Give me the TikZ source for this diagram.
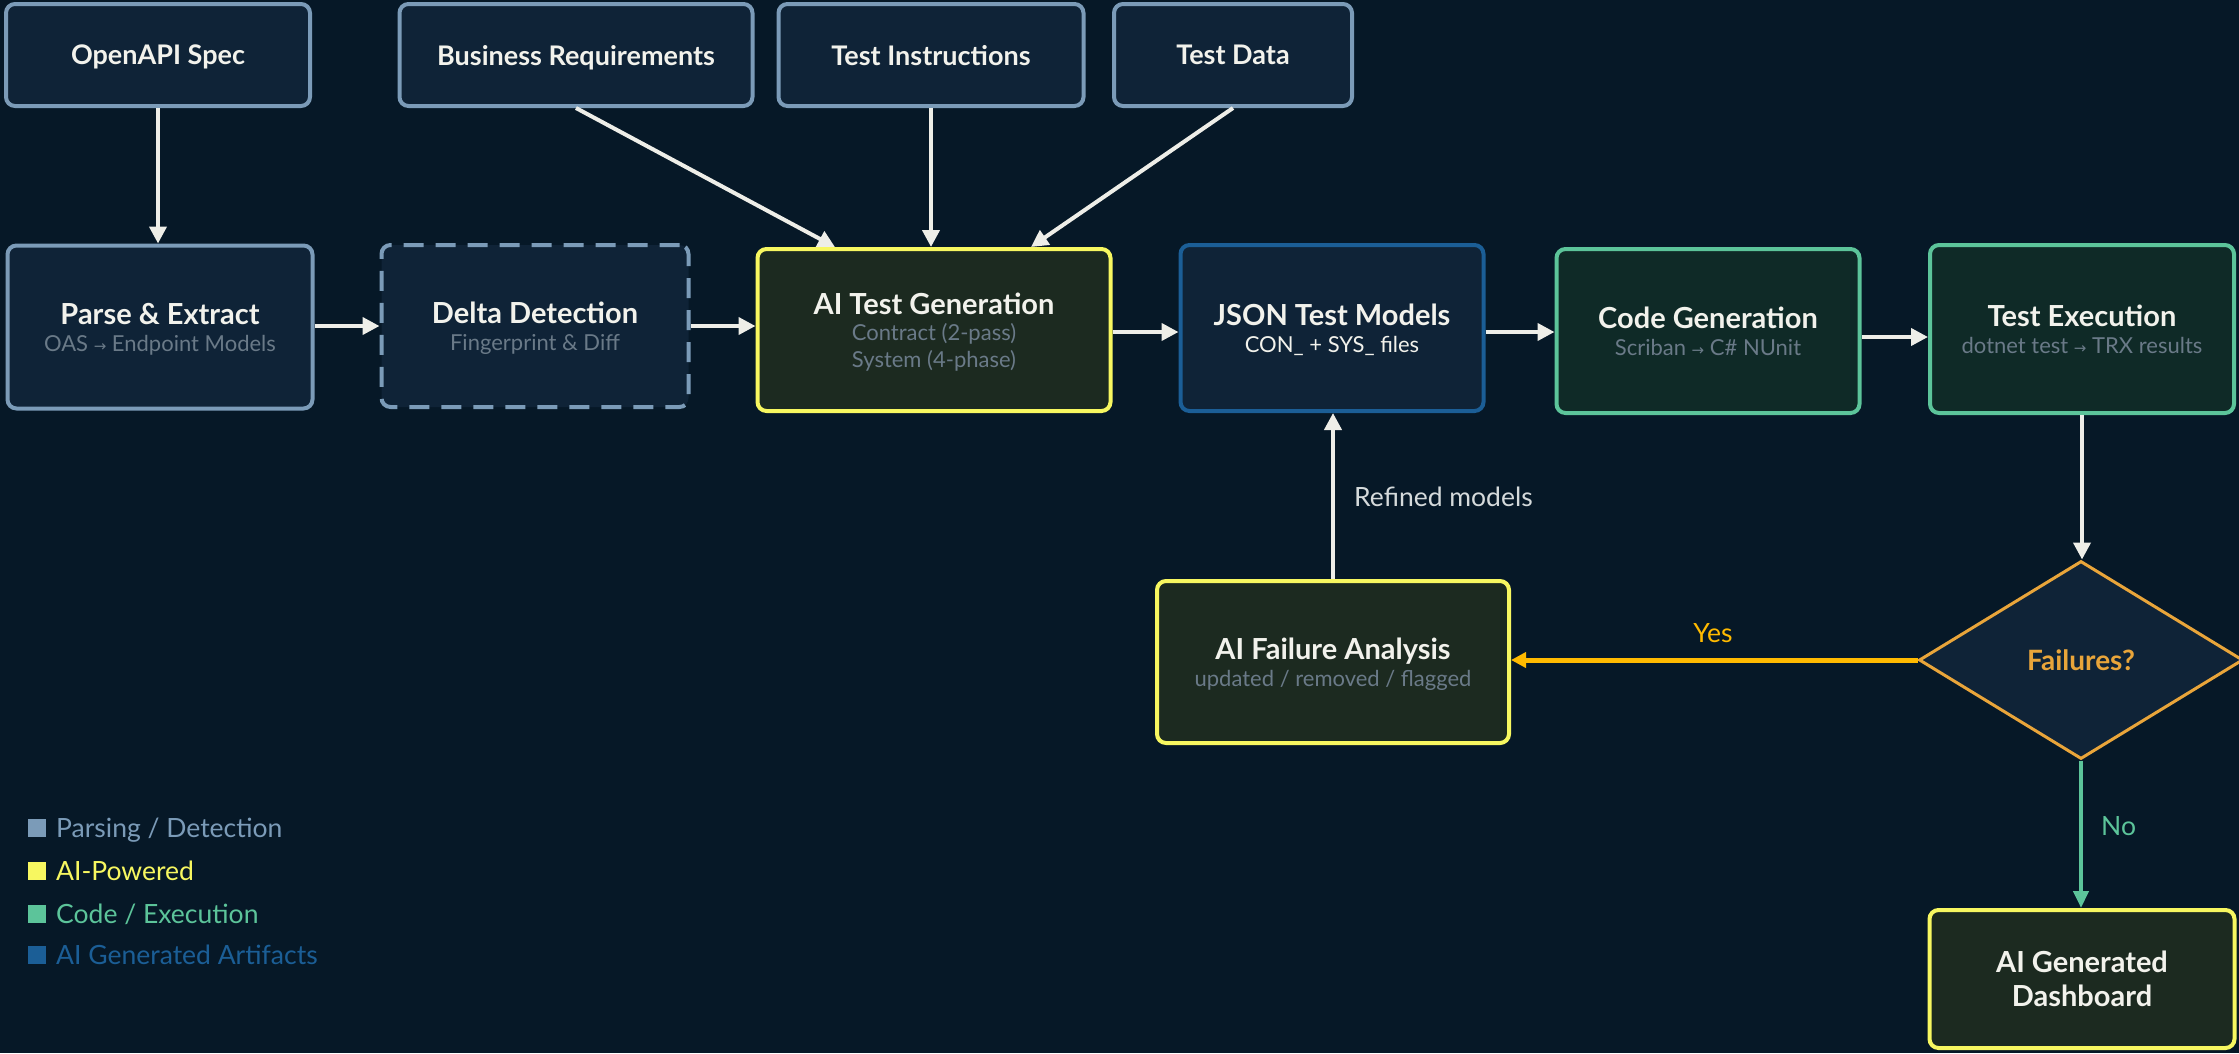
\documentclass[tikz,border=0pt]{standalone}
\usepackage{fontspec}
\setmainfont{Lato}
\newfontfamily\symfont{DejaVu Sans}
\usetikzlibrary{arrows.meta,shapes.geometric,calc}

\definecolor{bg}{HTML}{061827}
\definecolor{boxfill}{HTML}{0F2337}
\definecolor{parsec}{HTML}{7B9BB8}
\definecolor{aiy}{HTML}{F7F760}
\definecolor{aifill}{HTML}{1C2A20}
\definecolor{codeg}{HTML}{5CC49A}
\definecolor{codefill}{HTML}{0F2A27}
\definecolor{artb}{HTML}{1B5E96}
\definecolor{orng}{HTML}{E9A53A}
\definecolor{gold}{HTML}{FFBA00}
\definecolor{arrw}{HTML}{EEEEE8}
\definecolor{ttlc}{HTML}{F2F2EC}
\definecolor{subc}{HTML}{6A7A88}
\definecolor{lblc}{HTML}{D5DADB}

\newcommand\ttlf{\fontsize{29}{29}\selectfont\bfseries\color{ttlc}}
\newcommand\topf{\fontsize{27}{30}\selectfont\bfseries}
\newcommand\subf{\fontsize{22}{22}\selectfont\mdseries\color{subc}}
\newcommand\myra{{\symfont\fontsize{15}{15}\selectfont →}}

\tikzset{
  box/.style={rectangle, rounded corners=9pt, line width=4pt, inner sep=0pt, align=center, text=ttlc,
    font=\fontsize{22}{27}\selectfont, text depth=0pt},
  pbox/.style={box, draw=parsec, fill=boxfill},
  dbox/.style={pbox, dash pattern=on 20pt off 12pt},
  aibox/.style={box, draw=aiy, fill=aifill},
  cbox/.style={box, draw=codeg, fill=codefill},
  abox/.style={box, draw=artb, fill=boxfill},
  arr/.style={draw=arrw, line width=4pt, -{Triangle[length=17pt,width=17pt]}},
  lsq/.style={rectangle, inner sep=0pt, minimum size=18pt},
  ltx/.style={anchor=base west, inner sep=0pt, font=\fontsize{26.5}{30}\selectfont},
  lbl/.style={inner sep=0pt, font=\fontsize{26.5}{30}\selectfont}
}

\begin{document}
\begin{tikzpicture}[x=1pt,y=-1pt]
\useasboundingbox (0,0) rectangle (2239,1053);
\fill[bg] (0,0) rectangle (2239,1053);

% top inputs
\node[pbox, minimum width=304pt, minimum height=102pt] (oas) at (158,55) {\topf OpenAPI Spec};
\node[pbox, minimum width=353pt, minimum height=102pt] (biz) at (576,55) {\topf Business Requirements};
\node[pbox, minimum width=305pt, minimum height=102pt] (ins) at (931,55) {\topf Test Instructions};
\node[pbox, minimum width=238pt, minimum height=102pt] (tdata) at (1233,55) {\topf Test Data};

% main row
\node[pbox, minimum width=305pt, minimum height=163pt] (parse) at (160,327)
  {\ttlf Parse \& Extract\\\subf OAS \myra{} Endpoint Models};
\node[dbox, minimum width=307pt, minimum height=162pt] (delta) at (535,326)
  {\ttlf Delta Detection\\\subf Fingerprint \& Diff};
\node[aibox, minimum width=353pt, minimum height=162pt, font=\fontsize{22}{26.5}\selectfont] (aigen) at (934,330)
  {\ttlf AI Test Generation\\\subf Contract (2-pass)\\\subf System (4-phase)};
\node[abox, minimum width=303pt, minimum height=166pt] (json) at (1332,328)
  {\ttlf JSON Test Models\\\subf\color{ttlc} CON\_ + SYS\_ files};
\node[cbox, minimum width=303pt, minimum height=164pt] (code) at (1708,331)
  {\ttlf Code Generation\\\subf Scriban \myra{} C\# NUnit};
\node[cbox, minimum width=304pt, minimum height=168pt] (exec) at (2082,329)
  {\ttlf Test Execution\\\subf dotnet test \myra{} TRX results};

% lower row
\node[aibox, minimum width=352pt, minimum height=162pt] (fail) at (1333,662)
  {\ttlf AI Failure Analysis\\\subf updated / removed / flagged};
\node[diamond, draw=orng, line width=3pt, fill=boxfill, minimum width=324pt, minimum height=198pt,
  inner sep=0pt, text=orng, font=\fontsize{28}{30}\selectfont\bfseries] (dia) at (2081,660) {Failures?};
\node[aibox, minimum width=305pt, minimum height=138pt, font=\fontsize{29}{34}\selectfont\bfseries] (dash) at (2082,979)
  {AI Generated\\Dashboard};

% connectors
\draw[arr] (oas.south) -- (oas.south |- parse.north);
\draw[arr] (biz.south) -- ($(aigen.north)+(-99,0)$);
\draw[arr] (ins.south) -- (ins.south |- aigen.north);
\draw[arr] (tdata.south) -- ($(aigen.north)+(97,0)$);
\draw[arr] ([yshift=1pt]parse.east) -- ([yshift=1pt]parse.east -| delta.west);
\draw[arr] (delta.east) -- (delta.east -| aigen.west);
\draw[arr] ([yshift=-2pt]aigen.east) -- ([yshift=-2pt]aigen.east -| json.west);
\draw[arr] ([yshift=-4pt]json.east) -- ([yshift=-4pt]json.east -| code.west);
\draw[arr] ([yshift=-6pt]code.east) -- ([yshift=-6pt]code.east -| exec.west);
\draw[arr] (exec.south) -- (exec.south |- dia.north);
\draw[arr] (fail.north) -- (fail.north |- json.south);
\draw[draw=gold, line width=5pt, -{Triangle[length=15pt,width=15pt]}] (dia.west) -- (dia.west -| fail.east);
\draw[draw=codeg, line width=4pt, -{Triangle[length=17pt,width=15pt]}] (dia.south) -- (dia.south |- dash.north);

% connector labels
\node[lbl, text=lblc, anchor=base west] (reflbl) at (1354,506) {Refined models};
\node[lbl, text=gold, anchor=base] (yeslbl) at (1713,642) {Yes};
\node[lbl, text=codeg, anchor=base west] (nolbl) at (2101,835) {No};

% legend
\node[lsq, fill=parsec] (lg1) at (36.5,828) {};
\node[ltx, text=parsec] (lg1t) at (56,837) {Parsing / Detection};
\node[lsq, fill=aiy] (lg2) at (36.5,871) {};
\node[ltx, text=aiy] (lg2t) at (56,880) {AI-Powered};
\node[lsq, fill=codeg] (lg3) at (36.5,914) {};
\node[ltx, text=codeg] (lg3t) at (56,923) {Code / Execution};
\node[lsq, fill=artb] (lg4) at (36.5,955) {};
\node[ltx, text=artb] (lg4t) at (56,964) {AI Generated Artifacts};
\end{tikzpicture}
\end{document}
